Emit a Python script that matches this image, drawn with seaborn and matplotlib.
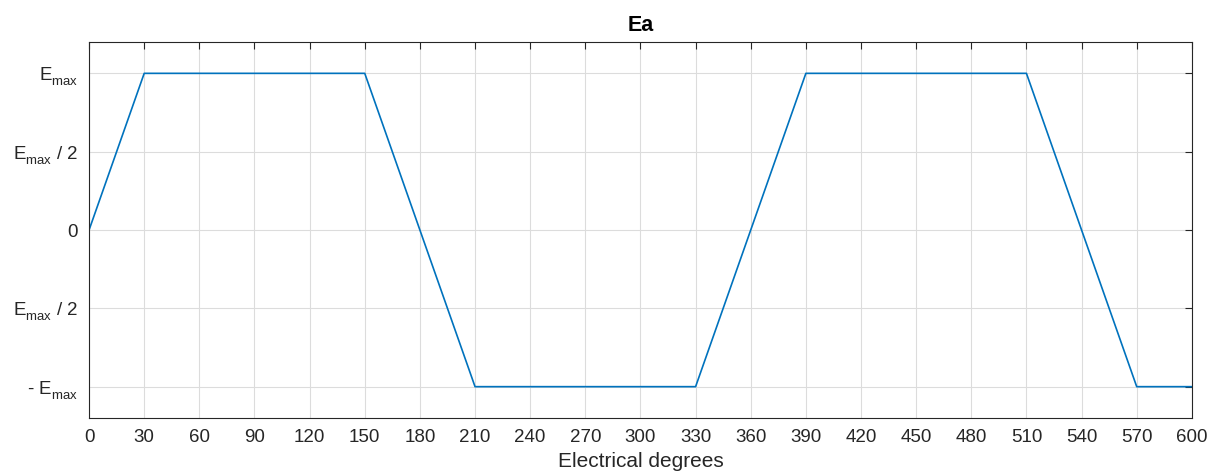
import numpy as np
import pandas as pd
import matplotlib
matplotlib.use('Agg')
import matplotlib.pyplot as plt
import seaborn as sns

# trapezoidal back-EMF of phase a, in units of Emax
degrees = [0, 30, 150, 210, 330, 390, 510, 570, 600]
ea = [0, 1, 1, -1, -1, 1, 1, -1, -1]

x_ticks = list(range(0, 601, 30))
y_ticks = [-1, -0.5, 0, 0.5, 1]
y_labels = [r'- E$_{\mathregular{max}}$', r'E$_{\mathregular{max}}$ / 2', '0',
            r'E$_{\mathregular{max}}$ / 2', r'E$_{\mathregular{max}}$']

sns.set_style('white')
plt.rcParams['font.family'] = ['Liberation Sans', 'DejaVu Sans']
plt.rcParams['mathtext.fontset'] = 'custom'
plt.rcParams['mathtext.rm'] = 'Liberation Sans'
plt.rcParams['mathtext.it'] = 'Liberation Sans'

# push subscripts a bit lower, like the MATLAB tex interpreter does
try:
    from matplotlib import _mathtext
    _mathtext.FontConstantsBase.sub1 = 0.55
    _mathtext.FontConstantsBase.sub2 = 0.65
except Exception:
    pass

df = pd.DataFrame({'deg': degrees, 'ea': ea})

fig = plt.figure(figsize=(12.1, 4.72), dpi=100)
ax = fig.add_axes([0.0736, 0.1144, 0.985 - 0.0736, 0.911 - 0.1144])
sns.lineplot(data=df, x='deg', y='ea', color='#0072BD', linewidth=1.2, ax=ax)

ax.set_xlim(0, 600)
ax.set_ylim(-1.2, 1.2)
ax.set_xticks(x_ticks)
ax.set_yticks(y_ticks)
ax.set_yticklabels(y_labels)
ax.grid(True, color='#dcdcdc', linewidth=0.8)
ax.set_axisbelow(True)
for s in ax.spines.values():
    s.set_color('#262626')
    s.set_linewidth(0.8)
ax.tick_params(direction='in', length=5, width=0.8, colors='#262626',
               top=True, right=True, labelsize=13.5, labelcolor='#262626')
ax.tick_params(axis='x', pad=8)
ax.tick_params(axis='y', pad=8)
ax.set_xlabel('Electrical degrees', fontsize=15, color='#262626', labelpad=4)
ax.set_ylabel('')
ax.set_title('Ea', fontsize=15.5, fontweight='bold', pad=8, color='black')

fig.savefig('out.png', dpi=100)
